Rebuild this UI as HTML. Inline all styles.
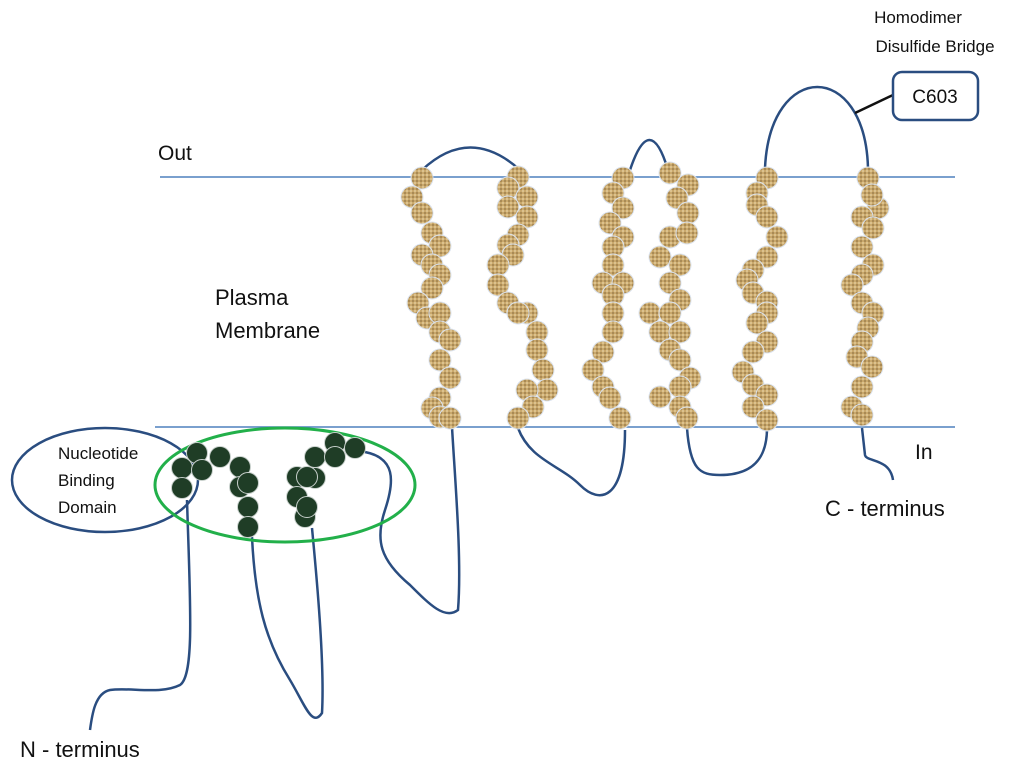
<!DOCTYPE html>
<html><head><style>body{margin:0;background:#fff}svg{display:block}text{font-family:"Liberation Sans",sans-serif;fill:#111}</style></head>
<body>
<svg width="1024" height="768" viewBox="0 0 1024 768" xmlns="http://www.w3.org/2000/svg">
<defs>
<pattern id="wv" width="4" height="4" patternUnits="userSpaceOnUse"><rect width="4" height="4" fill="#c9a86c"/><rect width="2" height="2" fill="#a98a55"/><rect x="2" y="2" width="2" height="2" fill="#dcc28e"/></pattern>
</defs>
<g stroke="#4f81bd" stroke-width="1.6">
<line x1="160" y1="177" x2="955" y2="177"/>
<line x1="155" y1="427" x2="955" y2="427"/>
</g>
<g fill="none" stroke="#2a4d80" stroke-width="2.5">
<path d="M422 170 Q470 125 520 170"/>
<path d="M518 428 C530 460 560 465 580 485 C600 505 625 500 625 430"/>
<path d="M630 170 Q650 110 668 170"/>
<path d="M687 428 C690 470 700 475 720 475 C760 475 767 450 767 428"/>
<path d="M765 168 C770 60 865 60 868 168"/>
<path d="M862 428 L865 455 C866 462 890 458 893 480"/>
<path d="M90 730 C92 715 95 693 110 690 C130 687 160 695 180 685 C195 675 190 600 187 500"/>
<path d="M252 537 C255 600 265 640 290 680 C305 705 312 728 322 713 C325 660 315 560 312 528"/>
<path d="M365 452 C395 458 395 480 385 510 C375 540 380 560 410 585 C430 605 445 620 458 610 C462 560 455 480 452 427"/>
<ellipse cx="105" cy="480" rx="93" ry="52"/>
</g>
<ellipse cx="285" cy="485" rx="130" ry="57" fill="none" stroke="#22b04a" stroke-width="3"/>
<line x1="855" y1="113" x2="893" y2="95" stroke="#111" stroke-width="2.5"/>
<rect x="893" y="72" width="85" height="48" rx="9" fill="#fff" stroke="#2a4d80" stroke-width="2.5"/>
<text x="935" y="103" font-size="19" text-anchor="middle">C603</text>
<g fill="url(#wv)" stroke="#dbe3ee" stroke-width="1">
<circle cx="422" cy="178" r="11"/><circle cx="412" cy="197" r="11"/><circle cx="422" cy="213" r="11"/><circle cx="432" cy="233" r="11"/><circle cx="440" cy="246" r="11"/><circle cx="422" cy="255" r="11"/><circle cx="432" cy="265" r="11"/><circle cx="440" cy="275" r="11"/><circle cx="432" cy="288" r="11"/><circle cx="418" cy="303" r="11"/><circle cx="427" cy="318" r="11"/><circle cx="440" cy="313" r="11"/><circle cx="440" cy="332" r="11"/><circle cx="450" cy="340" r="11"/><circle cx="440" cy="360" r="11"/><circle cx="450" cy="378" r="11"/><circle cx="440" cy="398" r="11"/><circle cx="432" cy="408" r="11"/><circle cx="440" cy="417" r="11"/><circle cx="450" cy="418" r="11"/>
<circle cx="518" cy="177" r="11"/><circle cx="508" cy="188" r="11"/><circle cx="527" cy="197" r="11"/><circle cx="508" cy="207" r="11"/><circle cx="527" cy="217" r="11"/><circle cx="518" cy="235" r="11"/><circle cx="508" cy="245" r="11"/><circle cx="513" cy="255" r="11"/><circle cx="498" cy="265" r="11"/><circle cx="498" cy="285" r="11"/><circle cx="508" cy="303" r="11"/><circle cx="527" cy="313" r="11"/><circle cx="518" cy="313" r="11"/><circle cx="537" cy="332" r="11"/><circle cx="537" cy="350" r="11"/><circle cx="543" cy="370" r="11"/><circle cx="547" cy="390" r="11"/><circle cx="527" cy="390" r="11"/><circle cx="533" cy="407" r="11"/><circle cx="518" cy="418" r="11"/>
<circle cx="623" cy="178" r="11"/><circle cx="613" cy="193" r="11"/><circle cx="623" cy="208" r="11"/><circle cx="610" cy="223" r="11"/><circle cx="623" cy="237" r="11"/><circle cx="613" cy="247" r="11"/><circle cx="613" cy="265" r="11"/><circle cx="603" cy="283" r="11"/><circle cx="623" cy="283" r="11"/><circle cx="613" cy="295" r="11"/><circle cx="613" cy="313" r="11"/><circle cx="613" cy="332" r="11"/><circle cx="603" cy="352" r="11"/><circle cx="593" cy="370" r="11"/><circle cx="603" cy="387" r="11"/><circle cx="610" cy="398" r="11"/><circle cx="620" cy="418" r="11"/>
<circle cx="670" cy="173" r="11"/><circle cx="688" cy="185" r="11"/><circle cx="677" cy="198" r="11"/><circle cx="688" cy="213" r="11"/><circle cx="670" cy="237" r="11"/><circle cx="687" cy="233" r="11"/><circle cx="660" cy="257" r="11"/><circle cx="680" cy="265" r="11"/><circle cx="670" cy="283" r="11"/><circle cx="680" cy="300" r="11"/><circle cx="650" cy="313" r="11"/><circle cx="670" cy="313" r="11"/><circle cx="660" cy="332" r="11"/><circle cx="680" cy="332" r="11"/><circle cx="670" cy="350" r="11"/><circle cx="680" cy="360" r="11"/><circle cx="690" cy="378" r="11"/><circle cx="680" cy="387" r="11"/><circle cx="660" cy="397" r="11"/><circle cx="680" cy="407" r="11"/><circle cx="687" cy="418" r="11"/>
<circle cx="767" cy="178" r="11"/><circle cx="757" cy="193" r="11"/><circle cx="757" cy="205" r="11"/><circle cx="767" cy="217" r="11"/><circle cx="777" cy="237" r="11"/><circle cx="767" cy="257" r="11"/><circle cx="753" cy="270" r="11"/><circle cx="747" cy="280" r="11"/><circle cx="753" cy="293" r="11"/><circle cx="767" cy="302" r="11"/><circle cx="767" cy="313" r="11"/><circle cx="757" cy="323" r="11"/><circle cx="767" cy="342" r="11"/><circle cx="753" cy="352" r="11"/><circle cx="743" cy="372" r="11"/><circle cx="753" cy="385" r="11"/><circle cx="767" cy="395" r="11"/><circle cx="753" cy="407" r="11"/><circle cx="767" cy="420" r="11"/>
<circle cx="868" cy="178" r="11"/><circle cx="878" cy="208" r="11"/><circle cx="872" cy="195" r="11"/><circle cx="862" cy="217" r="11"/><circle cx="873" cy="228" r="11"/><circle cx="862" cy="247" r="11"/><circle cx="873" cy="265" r="11"/><circle cx="862" cy="275" r="11"/><circle cx="852" cy="285" r="11"/><circle cx="862" cy="303" r="11"/><circle cx="873" cy="313" r="11"/><circle cx="868" cy="328" r="11"/><circle cx="862" cy="342" r="11"/><circle cx="857" cy="357" r="11"/><circle cx="872" cy="367" r="11"/><circle cx="862" cy="387" r="11"/><circle cx="852" cy="407" r="11"/><circle cx="862" cy="415" r="11"/>
</g>
<g fill="#1f3d26" stroke="#c8d0cc" stroke-width="1">
<circle cx="182" cy="468" r="10.5"/><circle cx="197" cy="453" r="10.5"/><circle cx="202" cy="470" r="10.5"/><circle cx="182" cy="488" r="10.5"/><circle cx="220" cy="457" r="10.5"/><circle cx="240" cy="467" r="10.5"/><circle cx="240" cy="487" r="10.5"/><circle cx="248" cy="483" r="10.5"/><circle cx="248" cy="507" r="10.5"/><circle cx="248" cy="527" r="10.5"/>
<circle cx="297" cy="477" r="10.5"/><circle cx="315" cy="478" r="10.5"/><circle cx="307" cy="477" r="10.5"/><circle cx="315" cy="457" r="10.5"/><circle cx="335" cy="443" r="10.5"/><circle cx="335" cy="457" r="10.5"/><circle cx="355" cy="448" r="10.5"/><circle cx="297" cy="497" r="10.5"/><circle cx="305" cy="517" r="10.5"/><circle cx="307" cy="507" r="10.5"/>
</g>
<text x="158" y="160" font-size="21">Out</text>
<text x="215" y="305" font-size="22">Plasma</text>
<text x="215" y="338" font-size="22">Membrane</text>
<text x="915" y="459" font-size="21">In</text>
<text x="825" y="516" font-size="22">C - terminus</text>
<text x="20" y="757" font-size="22">N - terminus</text>
<text x="58" y="459" font-size="17">Nucleotide</text>
<text x="58" y="486" font-size="17">Binding</text>
<text x="58" y="513" font-size="17">Domain</text>
<text x="918" y="23" font-size="17" text-anchor="middle">Homodimer</text>
<text x="935" y="52" font-size="17" text-anchor="middle">Disulfide Bridge</text>
</svg>
</body></html>
